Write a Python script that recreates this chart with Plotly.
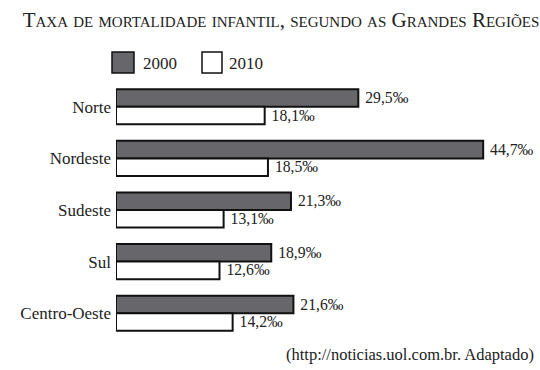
import plotly.graph_objects as go

regions = ["Norte", "Nordeste", "Sudeste", "Sul", "Centro-Oeste"]
series_names = ["2000", "2010"]
values_2000 = [29.5, 44.7, 21.3, 18.9, 21.6]
values_2010 = [18.1, 18.5, 13.1, 12.6, 14.2]

title_text = "Taxa de mortalidade infantil, segundo as Grandes Regiões"
source_text = "(http://noticias.uol.com.br. Adaptado)"

def fmt(v):
    return "\u00a0" + f"{v:.1f}".replace(".", ",") + "‰"

FONT = "Liberation Serif, Times New Roman, serif"
FS = 17
W, H = 540, 370
L, R, T, B = 116, 10, 81, 31

fig = go.Figure()
colors = ["#67676b", "#ffffff"]
for name, vals, col in zip(series_names, [values_2000, values_2010], colors):
    fig.add_trace(go.Bar(
        y=regions, x=vals, orientation="h", name=name,
        marker=dict(color=col, line=dict(color="#111111", width=2)),
        text=[fmt(v) for v in vals], textposition="outside",
        textfont=dict(family=FONT, size=FS, color="#222222"),
        cliponaxis=False, showlegend=False,
    ))

pw = W - L - R
ph = H - T - B
def px(x):
    return (x - L) / pw
def py(y):
    return 1 - (y - T) / ph

shapes = []
annotations = []
# legend boxes
for (x0, x1, lx), name, col in zip([(112, 134, 141), (202, 222, 227)], series_names, colors):
    shapes.append(dict(type="rect", xref="paper", yref="paper",
                       x0=px(x0), x1=px(x1), y0=py(73), y1=py(52),
                       fillcolor=col, line=dict(color="#111111", width=1.5)))
    annotations.append(dict(text=name, xref="paper", yref="paper", x=px(lx), y=py(63),
                            xanchor="left", yanchor="middle", showarrow=False,
                            font=dict(family=FONT, size=FS, color="#222222")))

annotations.append(dict(text=source_text, xref="paper", yref="paper", x=px(536), y=py(354),
                        xanchor="right", yanchor="middle", showarrow=False,
                        font=dict(family=FONT, size=16.5, color="#222222")))

fig.update_layout(
    width=W, height=H,
    margin=dict(l=L, r=R, t=T, b=B, autoexpand=False),
    paper_bgcolor="white", plot_bgcolor="white",
    barmode="group", bargap=0.32, bargroupgap=0,
    title=dict(text=title_text, x=281 / W, xanchor="center", y=1 - 20 / H, yanchor="middle",
               font=dict(family=FONT, size=21, color="#222222", variant="small-caps")),
    xaxis=dict(range=[0, 50.4], visible=False, showgrid=False, zeroline=False, automargin=False),
    yaxis=dict(range=[4.5, -0.5], showgrid=False, zeroline=False, showline=False,
               ticks="", ticklabelstandoff=4, automargin=False,
               tickfont=dict(family=FONT, size=FS, color="#222222")),
    shapes=shapes, annotations=annotations,
)

fig.write_html("out.html", config={"displayModeBar": False},
               post_script="document.body.style.margin='0';document.body.style.padding='0';")
